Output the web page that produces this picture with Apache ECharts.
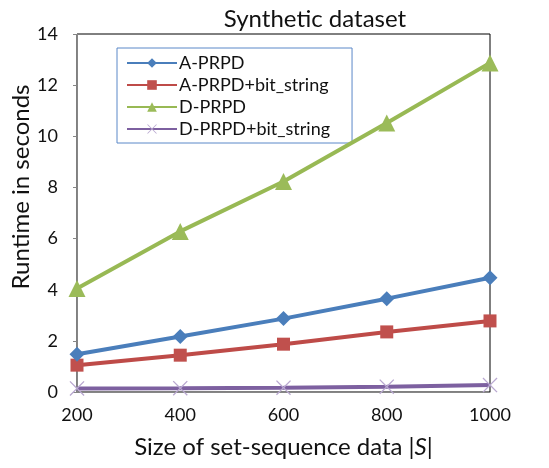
<!DOCTYPE html>
<html><head><meta charset="utf-8">
<script src="https://cdn.jsdelivr.net/npm/echarts@6/dist/echarts.min.js"></script>
<style>html,body{margin:0;padding:0;background:#fff}#c{width:549px;height:468px}</style>
</head><body><div id="c"></div>
<script>
const categories = ['200','400','600','800','1000'];
const aPRPD = [1.48, 2.17, 2.87, 3.65, 4.47];
const aPRPDBit = [1.05, 1.44, 1.87, 2.35, 2.78];
const dPRPD = [4.05, 6.28, 8.23, 10.52, 12.87];
const dPRPDBit = [0.14, 0.15, 0.17, 0.21, 0.27];
const yTicks = [0, 2, 4, 6, 8, 10, 12, 14];

const FONT = 'Lato, "Open Sans", sans-serif';
const xPath = 'path://M0,1L1,0L8,7L15,0L16,1L9,8L16,15L15,16L8,9L1,16L0,15L7,8Z';

const chart = echarts.init(document.getElementById('c'));
chart.setOption({
  animation: false,
  backgroundColor: '#fff',
  title: {
    text: 'Synthetic dataset', left: 310, top: 2, textAlign: 'center',
    textStyle: {fontFamily: FONT, fontSize: 24, fontWeight: 'normal', color: '#111'}
  },
  graphic: [{
    type: 'text', x: 21, y: 187, rotation: Math.PI / 2,
    style: {text: 'Runtime in seconds', fontFamily: FONT, fontSize: 24, fill: '#111',
            align: 'center', verticalAlign: 'middle'}
  }],
  grid: {left: 77, right: 59, top: 34, bottom: 76, show: true, borderColor: '#000', borderWidth: 1},
  legend: {
    orient: 'vertical', left: 117, top: 48, itemWidth: 50, itemHeight: 12, itemGap: 4,
    padding: [6, 22, 5, 9],
    borderColor: '#5a88c8', borderWidth: 1, backgroundColor: '#fff',
    textStyle: {fontFamily: FONT, fontSize: 18, color: '#111', padding: [0,0,0,-3]},
    data: ['A-PRPD','A-PRPD+bit_string','D-PRPD','D-PRPD+bit_string']
  },
  xAxis: {
    type: 'category', data: categories, boundaryGap: false,
    name: 'Size of set-sequence data |{i|S}|', nameLocation: 'middle', nameGap: 43,
    nameTextStyle: {fontFamily: FONT, fontSize: 24, color: '#111',
      rich: {i: {fontFamily: FONT, fontSize: 24, fontStyle: 'italic', color: '#111'}}},
    axisLine: {lineStyle: {color: '#868686', width: 1}},
    axisTick: {show: false},
    axisLabel: {fontFamily: FONT, fontSize: 18, color: '#111', margin: 14},
    splitLine: {show: false}
  },
  yAxis: {
    type: 'value', min: yTicks[0], max: yTicks[yTicks.length-1], interval: 2,
    axisLine: {show: true, lineStyle: {color: '#868686', width: 1}},
    axisTick: {show: true, length: 4, lineStyle: {color: '#868686'}},
    axisLabel: {fontFamily: FONT, fontSize: 18, color: '#111', margin: 19},
    splitLine: {show: false}
  },
  series: [
    {name: 'A-PRPD', type: 'line', data: aPRPD, symbol: 'diamond', symbolSize: 15,
     lineStyle: {width: 4, color: '#4a7ebb'}, itemStyle: {color: '#4a7ebb'}, z: 4},
    {name: 'A-PRPD+bit_string', type: 'line', data: aPRPDBit, symbol: 'rect', symbolSize: 13,
     lineStyle: {width: 4, color: '#be4b48'}, itemStyle: {color: '#c0504d'}, z: 3},
    {name: 'D-PRPD', type: 'line', data: dPRPD, symbol: 'triangle', symbolSize: 17,
     lineStyle: {width: 4, color: '#98b954'}, itemStyle: {color: '#9bbb59'}, z: 5},
    {name: 'D-PRPD+bit_string', type: 'line', data: dPRPDBit, symbol: xPath, symbolSize: 15,
     lineStyle: {width: 4, color: '#7d60a0'}, itemStyle: {color: '#b9a8d0'}, z: 2}
  ]
});
</script></body></html>
